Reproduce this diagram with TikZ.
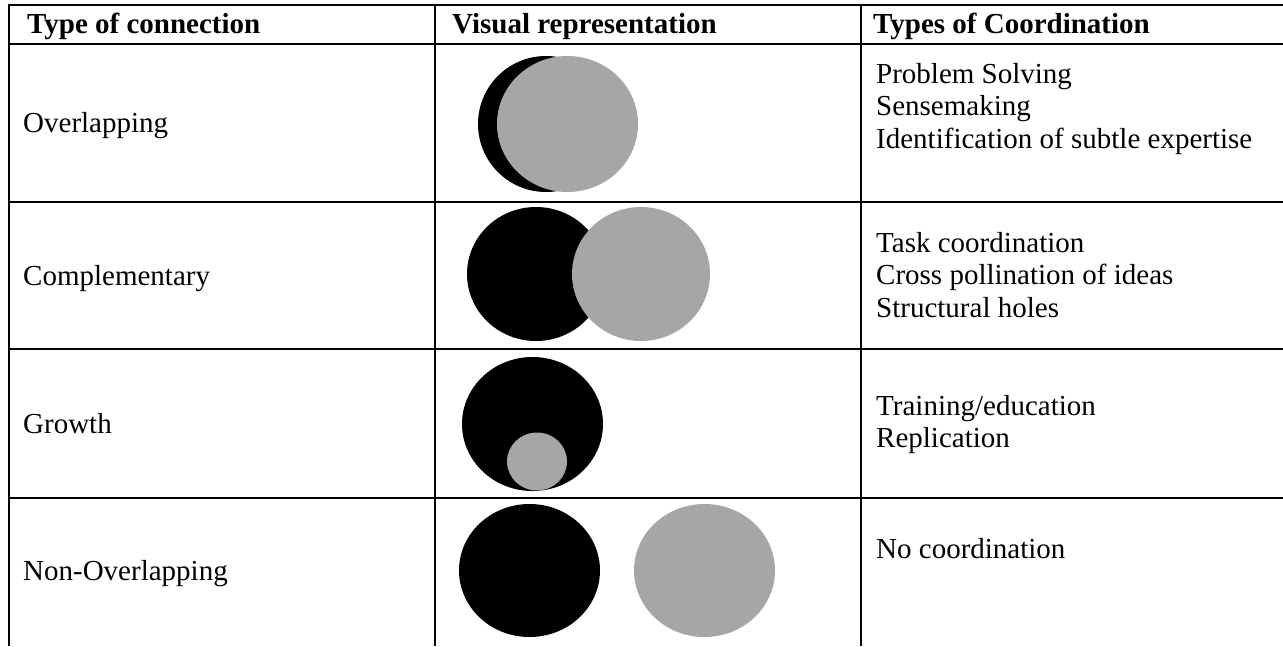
\documentclass[tikz,border=0pt]{standalone}
\usepackage{fontspec}
\setmainfont{Liberation Serif}
\definecolor{circlegray}{RGB}{166,166,166}
\newcommand\RowRule[1]{%
    \draw[tablerule] (9,#1) -- (1283,#1);
}
\newcommand\CellLines[3]{% x, first baseline, list of lines
    \foreach \txt [count=\i] in {#3} {
        \node[celltext] (#1-\i) at (876,{#2+32.5*(\i-1)}) {\txt};
    }
}

\begin{document}
\begin{tikzpicture}[x=1pt,y=-1pt,
    tablerule/.style={line width=2pt},
    celltext/.style={anchor=base west,inner sep=0pt,font=\fontsize{29}{33}\selectfont},
    headtext/.style={celltext,font=\fontsize{29}{33}\selectfont\bfseries}]
    \useasboundingbox (0,0) rectangle (1283,646);
    % table grid
    \RowRule{5}
    \RowRule{44}
    \RowRule{202}
    \RowRule{349}
    \RowRule{498}
    \draw[tablerule] (9,4) -- (9,646);
    \draw[tablerule] (435,4) -- (435,646);
    \draw[tablerule] (861,4) -- (861,646);
    % header
    \node[headtext] (hconn) at (27,33) {Type of connection};
    \node[headtext] (hvis) at (452,33) {Visual representation};
    \node[headtext] (hcoord) at (873,33) {Types of Coordination};
    \begin{scope} % overlapping
        \node[celltext] (overlap) at (23,132) {Overlapping};
        \fill[black] (546,124) ellipse [x radius=68,y radius=68];
        \fill[circlegray] (567.5,124) ellipse [x radius=70.5,y radius=68];
        \CellLines{ov}{83}{Problem Solving,Sensemaking,Identification of subtle expertise}
    \end{scope}
    \begin{scope} % complementary
        \node[celltext] (compl) at (23,285) {Complementary};
        \fill[black] (536,274) ellipse [x radius=69,y radius=67];
        \fill[circlegray] (641,274) ellipse [x radius=69,y radius=67];
        \CellLines{co}{252}{Task coordination,Cross pollination of ideas,Structural holes}
    \end{scope}
    \begin{scope} % growth
        \node[celltext] (growth) at (23,433) {Growth};
        \fill[black] (532.5,424) ellipse [x radius=70.5,y radius=67];
        \fill[circlegray] (537,461.5) ellipse [x radius=30,y radius=29];
        \CellLines{gr}{415}{Training/education,Replication}
    \end{scope}
    \begin{scope} % non-overlapping
        \node[celltext] (nonov) at (23,580) {Non-Overlapping};
        \fill[black] (529.5,570.5) ellipse [x radius=70.5,y radius=66.5];
        \fill[circlegray] (704.5,570.5) ellipse [x radius=70.5,y radius=66.5];
        \CellLines{no}{558}{No coordination}
    \end{scope}
\end{tikzpicture}
\end{document}
